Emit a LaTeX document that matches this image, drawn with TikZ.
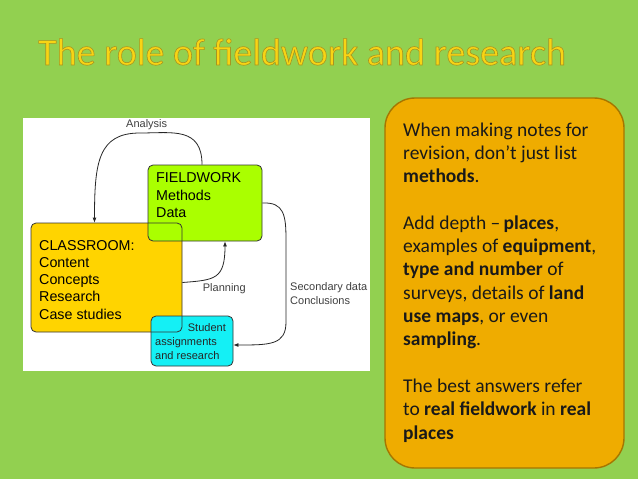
\documentclass[tikz,border=0pt]{standalone}
\usepackage{fontspec}
\setmainfont{Carlito}
\newfontfamily\arialfont{Liberation Sans}
\usetikzlibrary{positioning,calc,arrows.meta}

\definecolor{slidegreen}{RGB}{146,208,80}
\definecolor{titleyellow}{RGB}{248,212,20}
\definecolor{noteorange}{RGB}{239,172,0}
\definecolor{noteedge}{RGB}{165,118,0}
\definecolor{classgold}{RGB}{255,212,0}
\definecolor{fieldlime}{RGB}{170,255,0}
\definecolor{studcyan}{RGB}{20,240,245}

% stroke the title letters with a darker edge
\newcommand{\outlinedtext}[1]{\special{pdf:literal direct 2 Tr 0.6 w 0.66 0.58 0.12 RG}#1\special{pdf:literal direct 0 Tr}}

\begin{document}
\begin{tikzpicture}[x=1pt,y=-1pt,
  box/.style={draw=black!80, line width=0.8pt, rounded corners=5pt, inner sep=0pt},
  boxtext/.style={font=\arialfont\fontsize{14.3}{17.3}\selectfont, align=left, inner sep=0pt, anchor=base west},
  smalltext/.style={font=\arialfont\fontsize{11}{14}\selectfont, text=black!75, align=left, inner sep=0pt, anchor=base west},
  flow/.style={draw=black!85, line width=0.8pt, -{Latex[length=5pt,width=4pt]}}]

  % Background and panels
  \fill[slidegreen] (0,0) rectangle (638,479);
  \useasboundingbox (0,0) rectangle (638,479);
  \fill[white] (23,118) rectangle (370,371);
  \node[draw=noteedge, line width=1.4pt, fill=noteorange, rounded corners=30pt,
        minimum width=239pt, minimum height=370pt] (notes) at (504.5,283) {};

  % Title
  \node[font=\fontsize{38}{40}\selectfont, text=titleyellow, inner sep=0pt, anchor=base west]
    (title) at (38,65) {\outlinedtext{The role of fieldwork and research}};

  % Boxes (classroom fill first, its edge last)
  \node[box, draw=none, fill=classgold, minimum width=151pt, minimum height=109pt] (class) at (106.5,277.5) {};
  \node[box, fill=fieldlime, minimum width=114pt, minimum height=76pt] (field) at (205,203) {};
  \node[box, fill=studcyan, minimum width=82pt, minimum height=50pt] (stud) at (192,341) {};
  \node[box, minimum width=151pt, minimum height=109pt] (classedge) at (class.center) {};

  % Box texts (anchored at the last baseline)
  \node[boxtext] (fieldtxt) at (156,217.3) {FIELDWORK\\Methods\\Data};
  \node[boxtext] (classtxt) at (39,319.2) {CLASSROOM:\\Content\\Concepts\\Research\\Case studies};
  \node[smalltext, text=black!85] (studtxt) at (155,359.7) {\hspace*{32.7pt}Student\\assignments\\and research};

  % Connectors
  \draw[flow] ([xshift=-3pt]field.north) .. controls ($(field.north)+(-3,-38)$) and (172,133) .. (140,133)
    .. controls (98,133) and ($(class.north)+(-12,-60)$) .. ([xshift=-12pt]class.north);
  \draw[flow] ([yshift=-5pt]class.east) .. controls (215,280) and ($(field.south)+(20,38)$) .. ([xshift=20pt]field.south);
  \draw[flow] (field.east) .. controls (284,202) and (286,215) .. (286,240) -- (286,322)
    .. controls (286,345) and (270,345) .. ([yshift=-4pt]stud.east);

  % Connector labels
  \node[smalltext] (analysis) at (126,127.3) {Analysis};
  \node[smalltext] (planning) at (202.7,291.7) {Planning};
  \node[smalltext] (secondary) at (290,304) {Secondary data\\Conclusions};

  % Notes text
  \node[font=\fontsize{19.5}{23.3}\selectfont, align=left, inner sep=0pt, anchor=base west, text=black!90]
    (notetxt) at (403,439) {When making notes for\\revision, don’t just list\\\textbf{methods}.\\[23.3pt]
    Add depth –\,\textbf{places},\\examples of \textbf{equipment},\\\textbf{type and number} of\\
    surveys, details of \textbf{land}\\\textbf{use maps}, or even\\\textbf{sampling}.\\[23.3pt]
    The best answers refer\\to \textbf{real fieldwork} in \textbf{real}\\\textbf{places}};
\end{tikzpicture}
\end{document}
